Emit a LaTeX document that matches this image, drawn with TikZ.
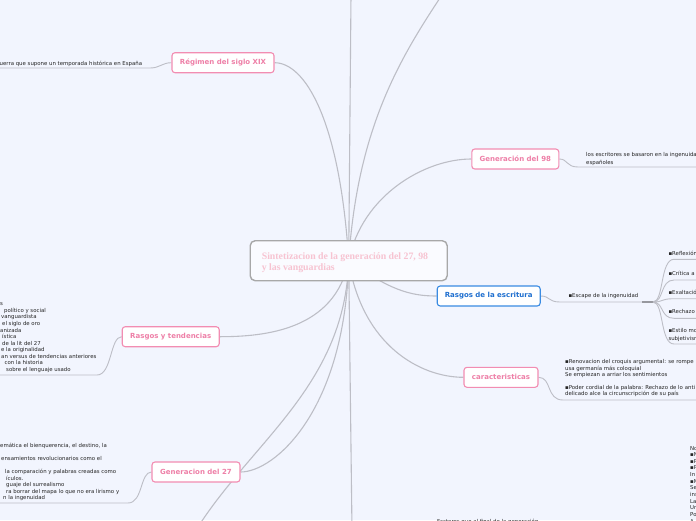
\documentclass[tikz,border=0pt]{standalone}
\usepackage{fontspec}
\setmainfont{DejaVu Sans}
\newfontfamily\cserif{Liberation Serif}
\usetikzlibrary{backgrounds}
\definecolor{bgc}{HTML}{F2F5FE}
\definecolor{pinkB}{HTML}{F28DB2}
\definecolor{pinkT}{HTML}{EE7FA7}
\definecolor{blueB}{HTML}{3A8BE2}
\definecolor{blueT}{HTML}{1F6FCF}
\definecolor{centB}{HTML}{A8A8A8}
\definecolor{centT}{HTML}{F7C3D1}
\definecolor{lineC}{HTML}{BDBEC6}
\definecolor{txtC}{HTML}{252525}
\tikzset{
 pinkbox/.style={draw=pinkB, line width=1.1pt, fill=white, rounded corners=3pt, text=pinkT,
   font=\bfseries\fontsize{7}{8}\selectfont, minimum height=20pt, inner sep=0pt},
 bluebox/.style={pinkbox, draw=blueB, text=blueT},
 smalltxt/.style={font=\fontsize{5.4}{6.5}\selectfont, text=txtC, inner sep=0pt, anchor=base west},
 conn/.style={draw=lineC, line width=1.1pt},
 uline/.style={draw=lineC, line width=0.9pt},
 ctext/.style={font=\cserif\bfseries\fontsize{9.8}{11.6}\selectfont, text=centT, inner sep=0pt, anchor=base west}
}
\begin{document}
\begin{tikzpicture}[x=1pt,y=-1pt]
\useasboundingbox (0,0) rectangle (696,520);
\begin{pgfonlayer}{background}
\fill[bgc] (0,0) rectangle (696,520);
\end{pgfonlayer}
\clip (0,0) rectangle (696,520);
% central node
\node[draw=centB, line width=1.4pt, fill=bgc!40!white, rounded corners=5pt, minimum width=197pt, minimum height=40pt, inner sep=0pt] (c) at (348.7,260.7) {};
\node[ctext] (ct1) at (261.6,259.1) {Sintetizacion de la generación del 27, 98};
\node[ctext] (ct2) at (261.6,270.7) {y las vanguardias};
% main topics
\node[pinkbox, minimum width=102pt] (reg) at (223,62.7) {Régimen del siglo XIX};
\node[pinkbox, minimum width=87pt] (g98) at (515.3,159) {Generación del 98};
\node[bluebox, minimum width=103pt] (rde) at (488.7,296) {Rasgos de la escritura};
\node[pinkbox, minimum width=74pt] (car) at (501,377.3) {caracteristicas};
\node[pinkbox, minimum width=97pt] (ryt) at (170.7,336.7) {Rasgos y tendencias};
\node[pinkbox, minimum width=88pt] (g27) at (196,472) {Generacion del 27};
% free ends
\coordinate (topA) at (351,-5);
\coordinate (topB) at (452,-20);
\coordinate (botA) at (190,540);
\coordinate (botB) at (352,530);
% texts
\node[smalltxt] (regt) at (-0.5,65.2) {uerra que supone un temporada histórica en España};
\node[smalltxt] (g98a) at (586,156.8) {los escritores se basaron en la ingenuidad};
\node[smalltxt] (g98b) at (586,164) {españoles};
\node[smalltxt] (esc) at (568.3,297.8) {▪Escape de la ingenuidad};
\node[smalltxt] (it1) at (668.3,255.9) {▪Reflexión};
\node[smalltxt] (it2) at (668.3,275.2) {▪Crítica a};
\node[smalltxt] (it3) at (668.3,294.6) {▪Exaltación};
\node[smalltxt] (it4) at (668.3,313.6) {▪Rechazo};
\node[smalltxt] (it5a) at (668.3,332.6) {▪Estilo mod};
\node[smalltxt] (it5b) at (668.3,340.2) {subjetivismo};
\node[smalltxt] (car1) at (565,363.5) {▪Renovacion del croquis argumental: se rompe};
\node[smalltxt] (car2) at (565,370) {usa germanía más coloquial};
\node[smalltxt] (car3) at (565,376.5) {Se empiezan a arriar los sentimientos};
\node[smalltxt] (car4) at (565,389.3) {▪Poder cordial de la palabra: Rechazo de lo anti};
\node[smalltxt] (car5) at (565,395.5) {delicado alce la circunscripción de su país};
\node[smalltxt] (bott) at (437,523.2) {Factores que al final de la generación};
\foreach \xx/\t [count=\i] in {0/s, 4/político y social, 1/vanguardista, 2/el siglo de oro, 0/anizada, 2/ística, 2/de la lit del 27, 1/e la originalidad, 1/an versus de tendencias anteriores, 4.5/con la historia, 6/sobre el lenguaje usado}
  \node[smalltxt] (rytt\i) at ({\xx},{305.9+6.53*(\i-1)}) {\t};
\foreach \k/\xx/\t in {0/0/{emática el bienquerencia, el destino, la}, 2/1/ensamientos revolucionarios como el, 4/5/la comparación y palabras creadas como, 5/6/ículos., 6/6/guaje del surrealismo, 7/6/ra borrar del mapa lo que no era lirismo y, 8/3/n la ingenuidad}
  \node[smalltxt] (g27t\k) at ({\xx},{447.9+6.5*\k}) {\t};
\foreach \t [count=\i] in {No, ▪N, ▪P, ▪P, In, ▪M, Se, ins, La, Un, Po, A}
  \node[smalltxt] (rb\i) at (690,{450+6.65*(\i-1)}) {\t};
% connectors
\begin{pgfonlayer}{background}
\draw[conn] (c.center) -- (topA);
\draw[conn] (c.center) .. controls (358,120) and (405,50) .. (topB);
\draw[conn] (c.center) .. controls (340,120) and (305,62.7) .. (reg.east);
\draw[conn] (c.center) .. controls (362,195) and (425,159) .. (g98.west);
\draw[conn] (c.center) .. controls (390,290) and (410,296) .. (rde.west);
\draw[conn] (c.center) .. controls (362,345) and (420,377.3) .. (car.west);
\draw[conn] (c.center) .. controls (335,330) and (265,336.7) .. (ryt.east);
\draw[conn] (c.center) .. controls (345,410) and (275,472) .. (g27.east);
\draw[conn] (c.center) .. controls (345,390) and (245,445) .. (botA);
\draw[conn] (c.center) -- (botB);
% underlines
\draw[uline] (reg.west) .. controls (162,62.7) and (160,68) .. (150,68) -- (-5,68);
\draw[uline] (ryt.west) .. controls (110,336.7) and (112,375) .. (97,375) -- (-5,375);
\draw[uline] (g27.west) .. controls (140,472) and (143,503) .. (128,503) -- (-5,503);
\draw[uline] (g98.east) .. controls (568,159) and (566,167) .. (578,167) -- (700,167);
\draw[uline] (car.east) .. controls (552,377.3) and (546,400) .. (563,400) -- (700,400);
\draw[uline] (rde.east) .. controls (550,296) and (548,302) .. (560,302) -- (642,302);
\draw[draw=lineC!80!black, line width=2.2pt] (642,302) -- (653,302);
\foreach \yy in {259.3,280,298.7,318.3,344}
  \draw[uline] (653,302) .. controls (664,302) and (660,\yy) .. (674,\yy) -- (700,\yy);
\end{pgfonlayer}
\end{tikzpicture}
\end{document}
